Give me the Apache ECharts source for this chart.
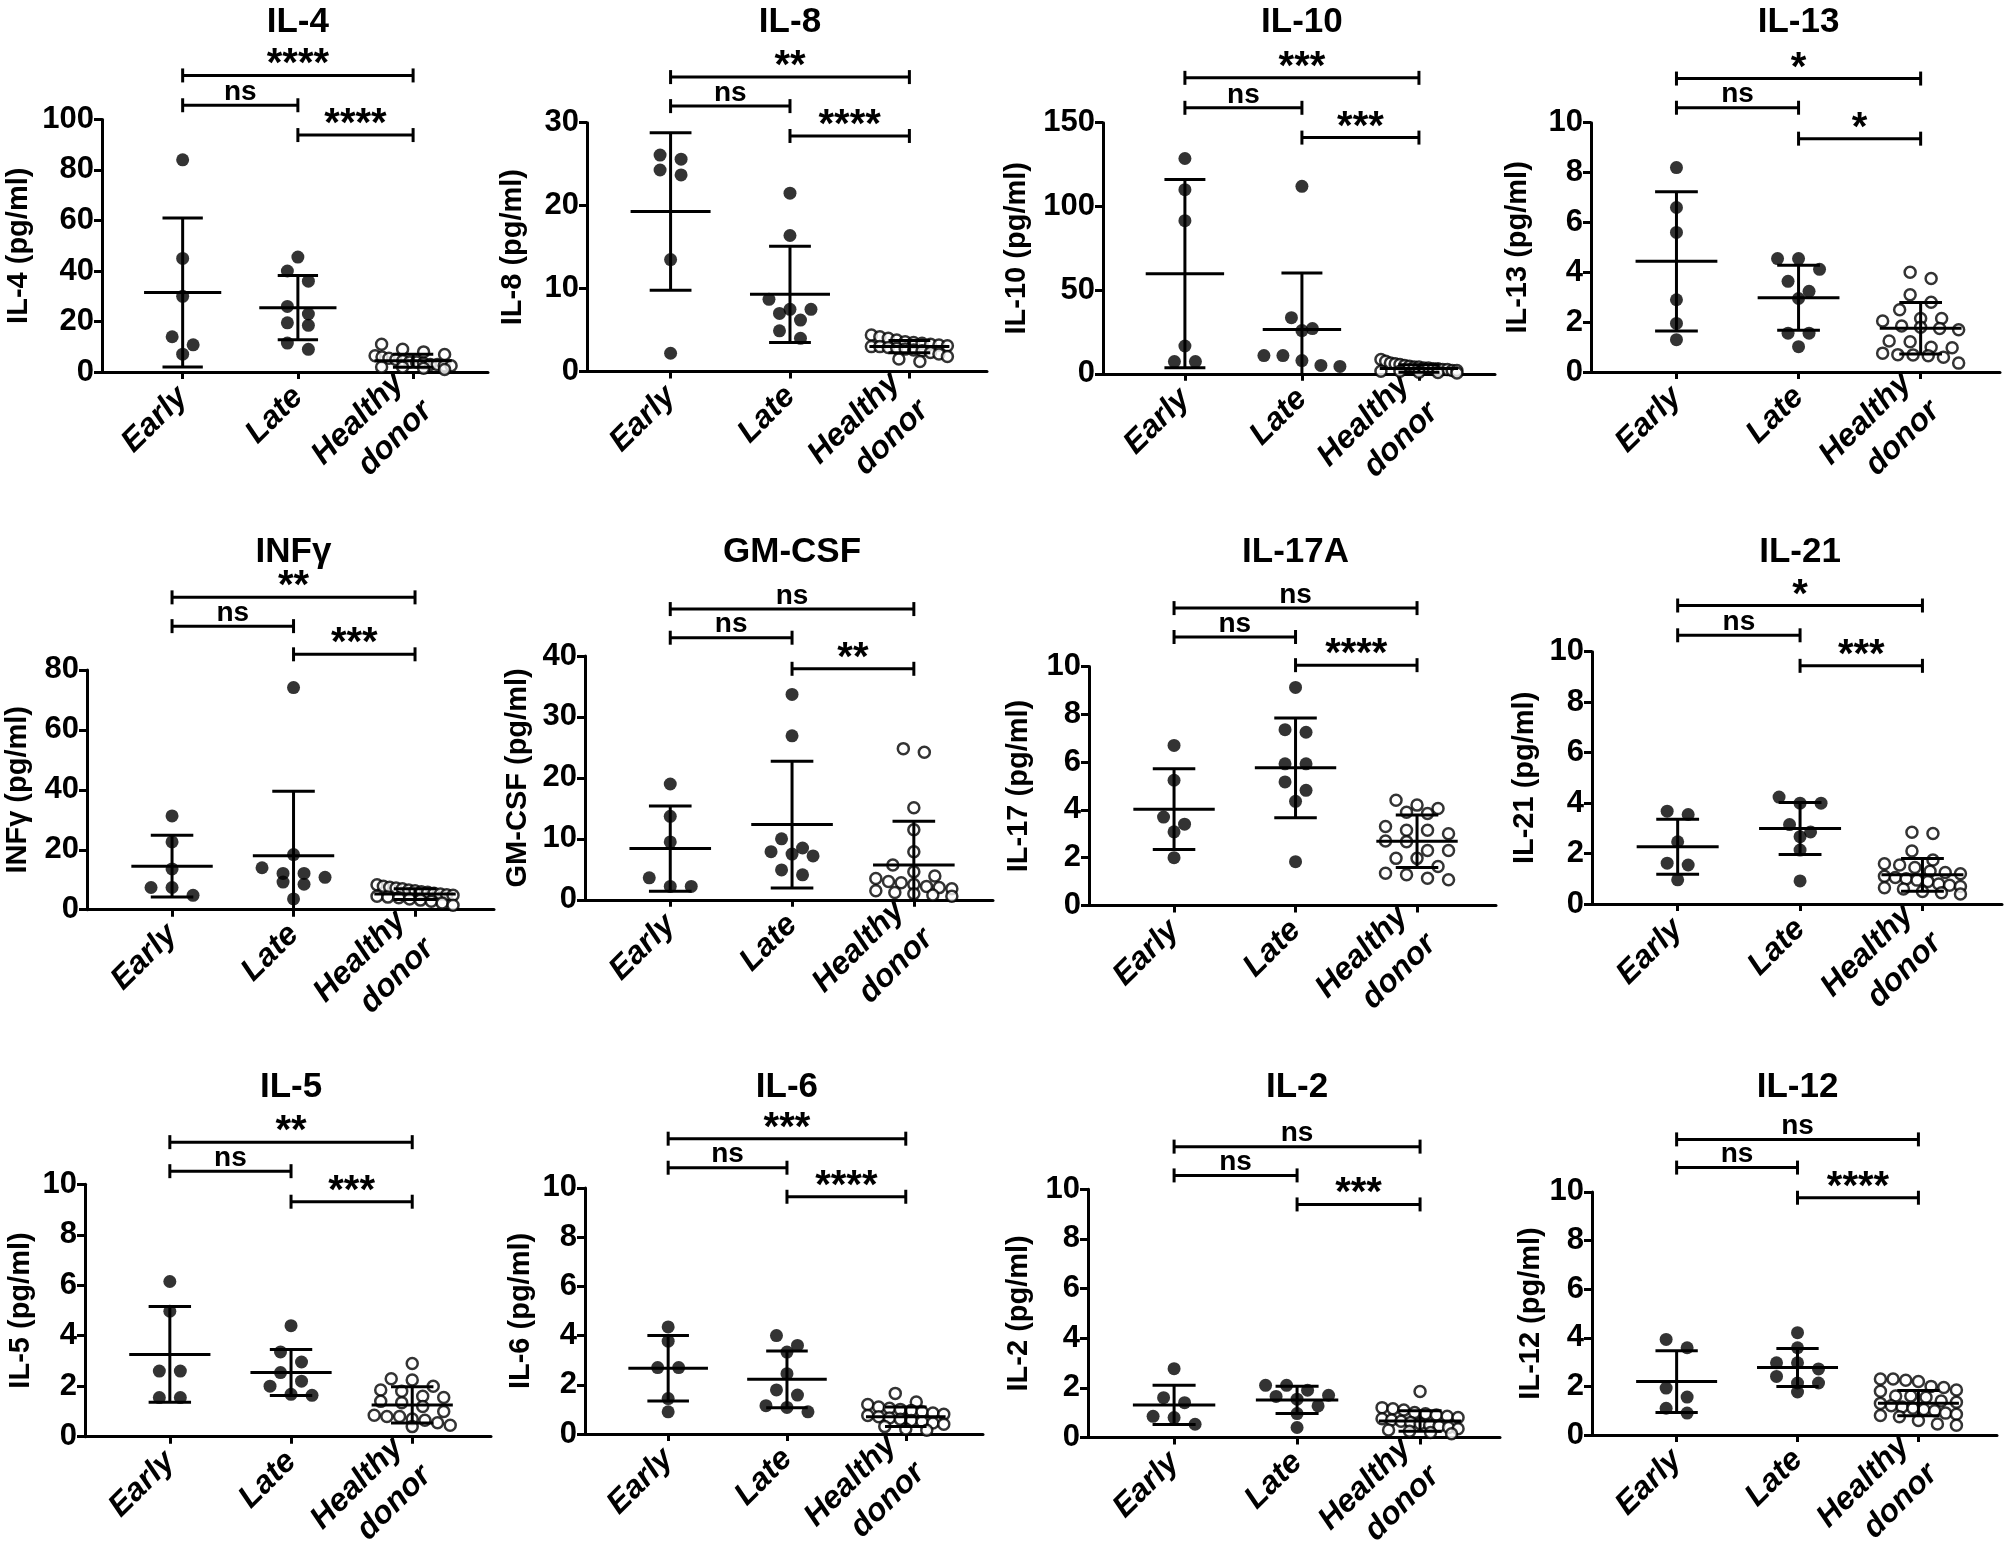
<!DOCTYPE html>
<html>
<head>
<meta charset="utf-8">
<script src="https://cdn.jsdelivr.net/npm/echarts@6/dist/echarts.min.js"></script>
<style>
  html, body { margin: 0; padding: 0; background: #fff; }
  #chart { width: 2008px; height: 1561px; }
</style>
</head>
<body>
<div id="chart"></div>
<script>
// ---------------- DATA ----------------
const titles = ['IL-4', 'IL-8', 'IL-10', 'IL-13', 'INF\u03b3', 'GM-CSF', 'IL-17A', 'IL-21', 'IL-5', 'IL-6', 'IL-2', 'IL-12'];
const yNames = ['IL-4 (pg/ml)', 'IL-8 (pg/ml)', 'IL-10 (pg/ml)', 'IL-13 (pg/ml)', 'INF\u03b3 (pg/ml)', 'GM-CSF (pg/ml)',
                'IL-17 (pg/ml)', 'IL-21 (pg/ml)', 'IL-5 (pg/ml)', 'IL-6 (pg/ml)', 'IL-2 (pg/ml)', 'IL-12 (pg/ml)'];
const groups = ['Early', 'Late', 'Healthy\ndonor'];
const yMax = [100, 30, 150, 10, 80, 40, 10, 10, 10, 10, 10, 10];
const yStep = [20, 10, 50, 2, 20, 10, 2, 2, 2, 2, 2, 2];

const earlyVals = [
  [84, 45, 30, 14, 10.8, 7.1],
  [26.1, 25.6, 24.3, 23.7, 13.5, 2.2],
  [128.6, 110, 91.5, 16.6, 7.3, 7.3],
  [8.2, 6.6, 5.6, 2.9, 1.95, 1.3],
  [31.3, 22.6, 13.6, 7.4, 7.4, 4.8],
  [19.0, 13.7, 9.5, 3.6, 2.2, 2.2],
  [6.7, 5.24, 3.7, 3.4, 3.08, 2.0],
  [3.68, 3.55, 2.47, 1.62, 1.55, 0.96],
  [6.15, 4.97, 2.6, 2.6, 1.55, 1.55],
  [4.35, 3.77, 2.7, 2.7, 1.44, 0.9],
  [2.77, 1.6, 1.4, 0.85, 0.8, 0.53],
  [3.93, 3.59, 1.93, 1.56, 1.1, 0.9]
];
const lateVals = [
  [45.5, 40, 36, 26, 23, 19.5, 18.5, 11.5, 9],
  [21.5, 16.4, 8.7, 7.5, 7.5, 7.0, 6.2, 4.9, 4.0],
  [112, 33.5, 27, 25.8, 10.9, 10.9, 7.9, 5.0, 4.4],
  [4.55, 4.55, 4.12, 3.64, 3.24, 2.95, 1.56, 1.56, 1.02],
  [74.1, 18.4, 14.0, 12.1, 12.1, 10.8, 9.2, 8.5, 3.6],
  [33.7, 26.9, 10.0, 8.5, 7.9, 7.5, 7.2, 4.9, 4.1],
  [9.13, 7.36, 7.25, 5.93, 5.93, 5.17, 4.82, 4.36, 1.83],
  [4.24, 4.0, 4.0, 3.15, 2.86, 2.67, 2.14, 0.92],
  [4.4, 3.36, 2.96, 2.54, 2.2, 2.0, 1.68, 1.64],
  [4.0, 3.6, 3.33, 2.45, 1.79, 1.58, 1.15, 1.08, 0.9],
  [2.1, 2.1, 1.9, 1.7, 1.65, 1.54, 1.27, 0.96, 0.4],
  [4.21, 3.59, 2.97, 2.97, 2.72, 2.41, 2.14, 2.14, 1.77]
];
const healthyVals = [
  [11, 9, 8, 7, 6.5, 6, 5.5, 5, 4.5, 4, 4, 3.5, 3, 3, 2.5, 2.5, 2, 2, 1.5, 1],
  [4.4, 4.2, 4.0, 3.8, 3.6, 3.5, 3.4, 3.3, 3.2, 3.1, 3.0, 3.0, 2.9, 2.8, 2.7, 2.6, 2.5, 2.3, 2.1, 1.8, 1.5, 1.2],
  [8.5, 7.5, 6.5, 6, 5.5, 5, 4.5, 4, 4, 3.5, 3.5, 3, 3, 2.5, 2.5, 2, 2, 1.5, 1.5, 1, 0.8, 0.5],
  [4.0, 3.75, 3.1, 2.8, 2.5, 2.15, 2.15, 2.05, 1.85, 1.8, 1.75, 1.7, 1.25, 1.22, 1.0, 0.98, 0.76, 0.7, 0.69, 0.66, 0.6, 0.36],
  [8.3, 7.8, 7.5, 7.2, 7.0, 6.6, 6.3, 6.0, 5.8, 5.5, 5.2, 5.0, 4.8, 4.5, 4.2, 4.0, 3.6, 3.2, 2.8, 2.2, 1.5],
  [24.8, 24.2, 15.1, 11.5, 7.9, 5.7, 4.6, 3.9, 3.5, 3.0, 2.8, 2.5, 2.2, 2.0, 1.8, 1.5, 1.2, 1.0, 0.8, 0.6],
  [4.4, 4.2, 4.06, 3.9, 3.85, 3.3, 3.15, 3.15, 3.0, 2.7, 2.67, 2.3, 2.3, 1.97, 1.97, 1.63, 1.35, 1.28, 1.14, 1.07],
  [2.85, 2.8, 2.1, 1.75, 1.6, 1.55, 1.45, 1.3, 1.25, 1.2, 1.1, 1.05, 1.0, 0.95, 0.9, 0.8, 0.75, 0.7, 0.65, 0.6, 0.5, 0.45, 0.4],
  [2.9, 2.3, 2.25, 2.0, 1.85, 1.8, 1.6, 1.55, 1.4, 1.35, 1.2, 1.0, 0.85, 0.8, 0.8, 0.7, 0.65, 0.55, 0.45, 0.4],
  [1.65, 1.3, 1.2, 1.1, 1.05, 1.0, 0.95, 0.9, 0.85, 0.8, 0.75, 0.7, 0.65, 0.6, 0.55, 0.5, 0.45, 0.4, 0.3, 0.2, 0.15],
  [1.85, 1.2, 1.15, 1.1, 1.0, 0.95, 0.9, 0.85, 0.8, 0.75, 0.7, 0.65, 0.6, 0.55, 0.5, 0.45, 0.4, 0.35, 0.3, 0.25, 0.2, 0.15],
  [2.3, 2.3, 2.25, 2.2, 2.0, 1.95, 1.85, 1.8, 1.6, 1.6, 1.55, 1.4, 1.35, 1.3, 1.2, 1.15, 1.1, 1.05, 1.0, 0.9, 0.85, 0.8, 0.75, 0.6, 0.45, 0.4]
];
// mean and SD per group [Early, Late, Healthy donor], read from the mean / SD bars
const meanVals = [
  [31.5, 25.5, 4.5], [19.3, 9.3, 3.0], [59.8, 26.4, 3.2], [4.44, 2.98, 1.76],
  [14.5, 18.0, 5.2], [8.4, 12.35, 5.7], [4.03, 5.76, 2.69], [2.27, 3.0, 1.16],
  [3.26, 2.54, 1.26], [2.67, 2.22, 0.7], [1.31, 1.51, 0.66], [2.2, 2.78, 1.31]
];
const sdVals = [
  [29.5, 12.7, 2.6], [9.5, 5.8, 0.75], [56.2, 33.8, 2.2], [2.79, 1.3, 1.03],
  [10.3, 21.5, 1.8], [7.0, 10.4, 7.2], [1.69, 2.09, 1.1], [1.09, 1.03, 0.65],
  [1.9, 0.91, 0.72], [1.33, 1.15, 0.4], [0.79, 0.55, 0.41], [1.27, 0.78, 0.52]
];
// significance labels: [Early vs Healthy, Early vs Late, Late vs Healthy]
const sigLabels = [
  ['****', 'ns', '****'], ['**', 'ns', '****'], ['***', 'ns', '***'], ['*', 'ns', '*'],
  ['**', 'ns', '***'], ['ns', 'ns', '**'], ['ns', 'ns', '****'], ['*', 'ns', '***'],
  ['**', 'ns', '***'], ['***', 'ns', '****'], ['ns', 'ns', '***'], ['ns', 'ns', '****']
];
// bracket heights in axis units: [Early vs Healthy, Early vs Late, Late vs Healthy]
const bracketLevels = [
  [117.4, 105.6, 93.8], [35.5, 32.0, 28.4], [176.8, 158.9, 141.1], [11.77, 10.6, 9.36],
  [104.2, 94.6, 85.2], [47.7, 43.0, 37.9], [12.45, 11.24, 10.06], [11.83, 10.65, 9.44],
  [11.67, 10.52, 9.31], [12.0, 10.82, 9.64], [11.72, 10.56, 9.39], [12.16, 11.0, 9.76]
];
const bracketPairs = [[1, 3], [1, 2], [2, 3]];

// ---------------- LAYOUT ----------------
const gridBoxes = [ // [left, top, width, height]
  [102, 119.4, 386, 252.7], [587, 122.7, 400, 248.8], [1103, 122.7, 392, 251.1], [1591, 122.7, 409, 249.4],
  [87, 669.9, 407, 239.8], [585, 656, 408, 243.8], [1089, 666.6, 407, 238.8], [1592, 651.7, 410, 252.4],
  [85, 1184.3, 406, 252.4], [585, 1187.9, 398, 246.1], [1088, 1189.3, 412, 248.1], [1592, 1191.9, 405, 243.1]
];
const nameGaps = [69, 60, 72, 59, 55, 53, 56, 53, 50, 50, 55, 47];
const titleRowY = [22, 552, 1087];
const X_MIN = 0.3, X_MAX = 3.65;
const FONT = "'Liberation Sans', Arial, Helvetica, sans-serif";
const LW = 3;
const DOT = 13, OPEN = 11, ROW_H = 11, DX = 21, MAXW = 76;

// simple column-scatter (beeswarm) layout computed from axis scale
function swarm(vals, gx, pxPerY, pxPerX) {
  const sorted = vals.slice().sort((a, b) => b - a);
  const rows = [];
  sorted.forEach(v => {
    const last = rows[rows.length - 1];
    if (last && (last[0] - v) * pxPerY < ROW_H) last.push(v); else rows.push([v]);
  });
  const out = [];
  rows.forEach(r => {
    const n = r.length;
    const step = n > 1 ? Math.min(DX, MAXW / (n - 1)) : 0;
    r.forEach((v, i) => out.push([gx + ((i - (n - 1) / 2) * step) / pxPerX, v]));
  });
  return out;
}

const option = {
  animation: false,
  backgroundColor: '#ffffff',
  grid: [], xAxis: [], yAxis: [], series: [], graphic: []
};

titles.forEach((t, i) => {
  const [gl, gt, gw, gh] = gridBoxes[i];
  option.grid.push({ left: gl, top: gt, width: gw, height: gh, containLabel: false, outerBoundsMode: 'none' });
  option.xAxis.push({
    gridIndex: i, type: 'value', min: X_MIN, max: X_MAX,
    splitLine: { show: false },
    axisLine: { show: true, onZero: false, lineStyle: { color: '#000', width: LW } },
    axisTick: { show: true, customValues: [1, 2, 3], length: 7, lineStyle: { color: '#000', width: LW } },
    axisLabel: {
      show: true, customValues: [1, 2, 3], rotate: 45, margin: 20,
      formatter: v => groups[Math.round(v) - 1] || '',
      color: '#000', fontFamily: FONT, fontWeight: 'bold', fontStyle: 'italic', fontSize: 32, lineHeight: 40
    }
  });
  option.yAxis.push({
    gridIndex: i, type: 'value', min: 0, max: yMax[i], interval: yStep[i],
    name: yNames[i], nameLocation: 'middle', nameGap: nameGaps[i],
    nameTextStyle: { color: '#000', fontFamily: FONT, fontWeight: 'bold', fontSize: 29 },
    splitLine: { show: false },
    axisLine: { show: true, lineStyle: { color: '#000', width: LW } },
    axisTick: { show: true, length: 8, lineStyle: { color: '#000', width: LW } },
    axisLabel: { color: '#000', fontFamily: FONT, fontWeight: 'bold', fontSize: 31, margin: 8 }
  });

  const pxPerY = gh / yMax[i];
  const pxPerX = gw / (X_MAX - X_MIN);
  const sets = [earlyVals[i], lateVals[i], healthyVals[i]];
  sets.forEach((vals, g) => {
    const open = g === 2;
    option.series.push({
      type: 'scatter', xAxisIndex: i, yAxisIndex: i, z: 2,
      symbol: 'circle', symbolSize: open ? OPEN : DOT,
      itemStyle: open ? { color: '#fff', borderColor: '#000', borderWidth: 2.5 } : { color: '#000' },
      emphasis: { disabled: true },
      data: swarm(vals, g + 1, pxPerY, pxPerX)
    });
  });

  // mean +/- SD bars
  option.series.push({
    type: 'custom', xAxisIndex: i, yAxisIndex: i, z: 5,
    encode: { x: 0, y: 1 },
    data: meanVals[i].map((m, g) => [g + 1, m, sdVals[i][g]]),
    renderItem: (params, api) => {
      const x = api.value(0), m = api.value(1), s = api.value(2);
      const lo = Math.max(0, m - s), hi = m + s;
      const a = api.coord([x - 0.335, m]), b = api.coord([x + 0.335, m]);
      const top = api.coord([x, hi]), bot = api.coord([x, lo]);
      const cap = api.size([0.175, 0])[0];
      const st = { stroke: '#000', lineWidth: LW, fill: null };
      const ch = [
        { type: 'line', shape: { x1: a[0], y1: a[1], x2: b[0], y2: b[1] }, style: st },
        { type: 'line', shape: { x1: top[0], y1: top[1], x2: bot[0], y2: bot[1] }, style: st },
        { type: 'line', shape: { x1: top[0] - cap, y1: top[1], x2: top[0] + cap, y2: top[1] }, style: st }
      ];
      if (m - s > 0) ch.push({ type: 'line', shape: { x1: bot[0] - cap, y1: bot[1], x2: bot[0] + cap, y2: bot[1] }, style: st });
      return { type: 'group', children: ch };
    }
  });

  // significance brackets
  const labs = sigLabels[i];
  option.series.push({
    type: 'custom', xAxisIndex: i, yAxisIndex: i, z: 5, clip: false,
    encode: { x: [0, 1], y: 2 },
    data: bracketLevels[i].map((lv, k) => [bracketPairs[k][0], bracketPairs[k][1], lv]),
    renderItem: (params, api) => {
      const p1 = api.coord([api.value(0), api.value(2)]);
      const p2 = api.coord([api.value(1), api.value(2)]);
      const st = { stroke: '#000', lineWidth: LW, fill: null };
      const lab = labs[params.dataIndex];
      const star = lab.indexOf('*') >= 0;
      return {
        type: 'group', children: [
          { type: 'line', shape: { x1: p1[0], y1: p1[1], x2: p2[0], y2: p2[1] }, style: st },
          { type: 'line', shape: { x1: p1[0], y1: p1[1] - 7, x2: p1[0], y2: p1[1] + 7 }, style: st },
          { type: 'line', shape: { x1: p2[0], y1: p2[1] - 7, x2: p2[0], y2: p2[1] + 7 }, style: st },
          { type: 'text', style: {
              text: lab, x: (p1[0] + p2[0]) / 2, y: p1[1] - (star ? 10 : 13),
              textAlign: 'center', textVerticalAlign: 'middle', fill: '#000',
              font: 'bold ' + (star ? 40 : 28) + 'px ' + FONT } }
        ]
      };
    }
  });

  // panel title, centred over the middle group
  option.graphic.push({
    type: 'text', silent: true,
    style: {
      text: t, x: gl + (2 - X_MIN) / (X_MAX - X_MIN) * gw, y: titleRowY[Math.floor(i / 4)],
      textAlign: 'center', textVerticalAlign: 'middle', fill: '#000',
      font: 'bold 35px ' + FONT
    }
  });
});

const chart = echarts.init(document.getElementById('chart'), null, { renderer: 'canvas' });
chart.setOption(option);
</script>
</body>
</html>
